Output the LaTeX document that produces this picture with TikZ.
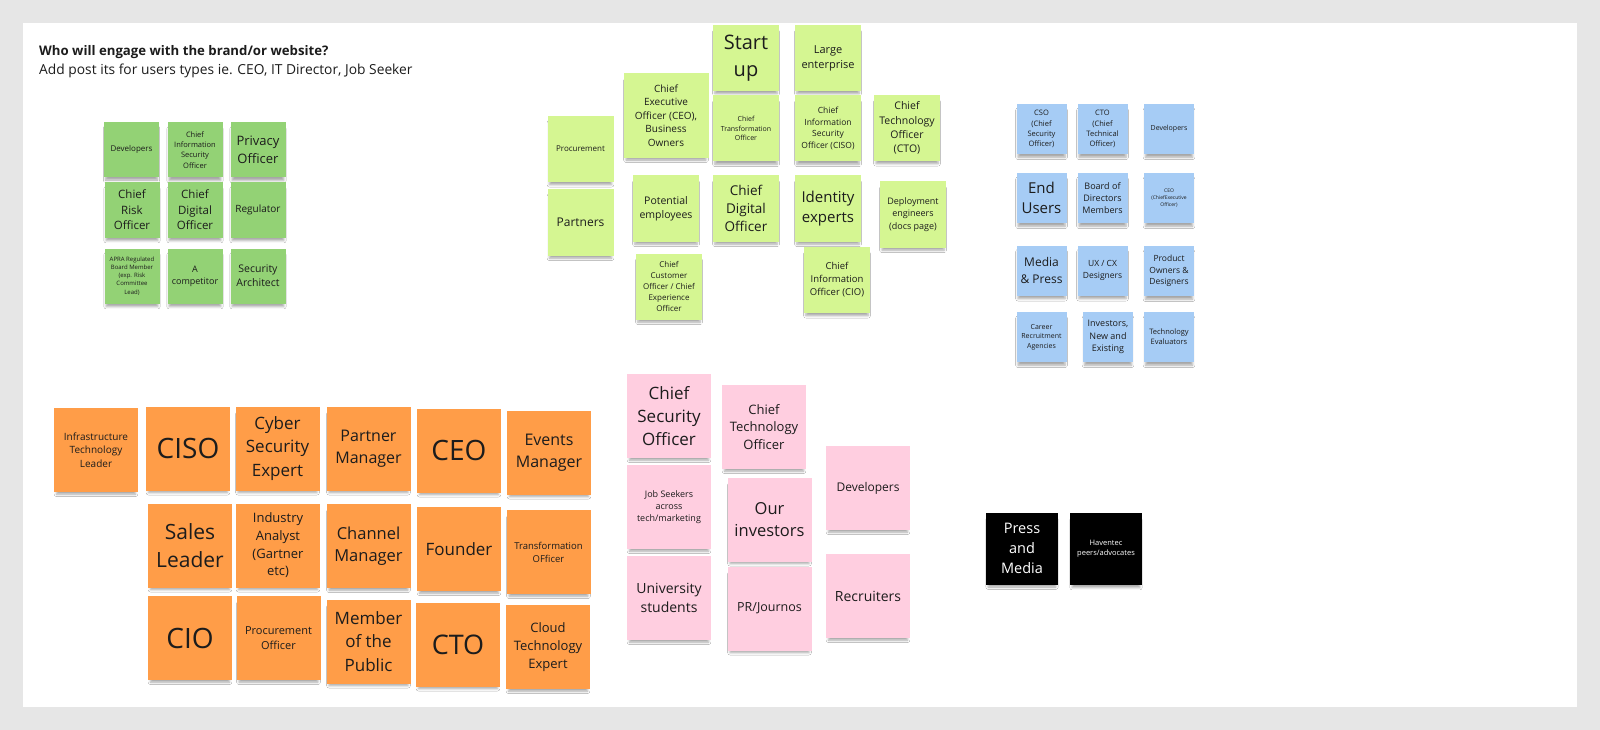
\documentclass[tikz,border=0pt]{standalone}
\usepackage{fontspec}
\setmainfont{Open Sans}
\usepackage{tikz}
\usetikzlibrary{shadows.blur}

\definecolor{canvas}{HTML}{E6E6E6}
\definecolor{ink}{HTML}{1C1C1C}
\definecolor{stgreen}{HTML}{93D275}
\definecolor{stlime}{HTML}{D5F692}
\definecolor{stblue}{HTML}{A6CCF5}
\definecolor{storange}{HTML}{FF9D48}
\definecolor{stpink}{HTML}{FFCEE0}

\newcommand{\fs}[1]{\fontsize{#1}{\fpeval{1.36*#1}}\selectfont}

\begin{document}
\begin{tikzpicture}[x=1pt, y=-1pt,
    sticky/.style={rectangle, inner sep=1pt, align=center, text=ink,
      blur shadow={shadow xshift=0pt, shadow yshift=-5pt, shadow scale=0.94,
        shadow blur radius=2.5pt, shadow opacity=35}},
    gnote/.style={sticky, fill=stgreen, minimum size=55pt},
    lnote/.style={sticky, fill=stlime, minimum size=66pt},
    bnote/.style={sticky, fill=stblue, minimum size=50pt},
    onote/.style={sticky, fill=storange, minimum size=84pt},
    pnote/.style={sticky, fill=stpink, minimum size=84pt},
    knote/.style={sticky, fill=black, text=white, minimum size=72pt},
    head/.style={anchor=base west, inner sep=0pt, text=ink}]
  \useasboundingbox (0,0) rectangle (1600,730);
  \fill[canvas] (0,0) rectangle (1600,730);
  \fill[white] (23,23) rectangle (1577,707);

  % header
  \node[head, font=\bfseries\fs{13.2}] (title) at (39,56) {Who will engage with the brand/or website?};
  \node[head, font=\fs{13.8}] (sub) at (39,75) {Add post its for users types ie. CEO, IT Director, Job Seeker};

  % green group
  \node[gnote, font=\fs{8}]    (gdev)  at (131.5,149.5) {Developers};
  \node[gnote, font=\fs{7.5}]  (gciso) at (195,150) {Chief\\Information\\Security\\Officer};
  \node[gnote, font=\fs{13}]   (gpriv) at (258,150) {Privacy\\Officer};
  \node[gnote, font=\fs{11.5}] (grisk) at (132,210) {Chief\\Risk\\Officer};
  \node[gnote, font=\fs{11.5}] (gcdo)  at (195,210) {Chief\\Digital\\Officer};
  \node[gnote, font=\fs{10}]   (greg)  at (258,210) {Regulator};
  \node[gnote, font=\fs{6}]    (gapra) at (132,276) {APRA Regulated\\Board Member\\(exp. Risk\\Committee\\Lead)};
  \node[gnote, font=\fs{9}]    (gcomp) at (195,276) {A\\competitor};
  \node[gnote, font=\fs{10.5}] (garch) at (258,276) {Security\\Architect};

  % lime group
  \node[lnote, font=\fs{20}]  (lstart) at (746,58) {Start\\up};
  \node[lnote, font=\fs{11}]  (llarge) at (828,58) {Large\\enterprise};
  \node[lnote, minimum size=85pt, font=\fs{10}] (lceo) at (666,115.5) {Chief\\Executive\\Officer (CEO),\\Business\\Owners};
  \node[lnote, font=\fs{7}]   (ltrans) at (746,128.5) {Chief\\Transformation\\Officer};
  \node[lnote, font=\fs{8.5}] (lciso)  at (828,128.5) {Chief\\Information\\Security\\Officer (CISO)};
  \node[lnote, font=\fs{10.5}] (lcto)  at (907,128) {Chief\\Technology\\Officer\\(CTO)};
  \node[lnote, font=\fs{8}]   (lproc)  at (580.5,149) {Procurement};
  \node[lnote, font=\fs{12}]  (lpart)  at (580.5,222.5) {Partners};
  \node[lnote, font=\fs{10.5}] (lemp)  at (666,208.5) {Potential\\employees};
  \node[lnote, font=\fs{13.5}] (lcdo)  at (746,208.5) {Chief\\Digital\\Officer};
  \node[lnote, font=\fs{15}]  (lident) at (828,208.5) {Identity\\experts};
  \node[lnote, font=\fs{9}]   (ldeploy) at (913,214.5) {Deployment\\engineers\\(docs page)};
  \node[lnote, font=\fs{8}]   (lcust)  at (669,286.5) {Chief\\Customer\\Officer / Chief\\Experience\\Officer};
  \node[lnote, font=\fs{9.5}] (lcio)   at (837,280) {Chief\\Information\\Officer (CIO)};

  % blue group
  \node[bnote, font=\fs{7.5}] (bcso)   at (1041.5,129) {CSO\\(Chief\\Security\\Officer)};
  \node[bnote, font=\fs{7.5}] (bcto)   at (1102.5,129) {CTO\\(Chief\\Technical\\Officer)};
  \node[bnote, font=\fs{7}]   (bdev)   at (1169,129) {Developers};
  \node[bnote, font=\fs{15}]  (bend)   at (1041.5,198) {End\\Users};
  \node[bnote, font=\fs{9}]   (bboard) at (1102.5,198) {Board of\\Directors\\Members};
  \node[bnote, font=\fs{5}]   (bceo)   at (1169,198) {CEO\\(ChiefExecutive\\Officer)};
  \node[bnote, font=\fs{12}]  (bmedia) at (1041.5,270.5) {Media\\\& Press};
  \node[bnote, font=\fs{8.5}] (bux)    at (1102.5,270.5) {UX / CX\\Designers};
  \node[bnote, font=\fs{8.5}] (bprod)  at (1169,271) {Product\\Owners \&\\Designers};
  \node[bnote, font=\fs{7}]   (bcareer) at (1041.5,337) {Career\\Recruitment\\Agencies};
  \node[bnote, font=\fs{9}]   (binv)   at (1108,337) {Investors,\\New and\\Existing};
  \node[bnote, font=\fs{7.5}] (beval)  at (1169,337) {Technology\\Evaluators};

  % orange group
  \node[onote, font=\fs{10}]   (oinfra)  at (96,450) {Infrastructure\\Technology\\Leader};
  \node[onote, font=\fs{28}]   (ociso)   at (188,448.5) {CISO};
  \node[onote, font=\fs{17}]   (ocyber)  at (277.5,448.5) {Cyber\\Security\\Expert};
  \node[onote, font=\fs{16}]   (opart)   at (368.5,448.5) {Partner\\Manager};
  \node[onote, font=\fs{28}]   (oceo)    at (459,450.5) {CEO};
  \node[onote, font=\fs{16}]   (oevent)  at (549,452.5) {Events\\Manager};
  \node[onote, font=\fs{21}]   (osales)  at (190,545.5) {Sales\\Leader};
  \node[onote, font=\fs{13}]   (oanal)   at (278,545.5) {Industry\\Analyst\\(Gartner\\etc)};
  \node[onote, font=\fs{16.5}] (ochan)   at (368.5,546) {Channel\\Manager};
  \node[onote, font=\fs{17}]   (ofound)  at (459,549) {Founder};
  \node[onote, font=\fs{9.5}]  (otrans)  at (548.5,552) {Transformation\\OFficer};
  \node[onote, font=\fs{28}]   (ocio)    at (190,638) {CIO};
  \node[onote, font=\fs{11}]   (oproc)   at (278.5,638) {Procurement\\Officer};
  \node[onote, font=\fs{17}]   (opublic) at (368.5,641.5) {Member\\of the\\Public};
  \node[onote, font=\fs{27}]   (octo)    at (458,644.5) {CTO};
  \node[onote, font=\fs{13}]   (ocloud)  at (548,647) {Cloud\\Technology\\Expert};

  % pink group
  \node[pnote, font=\fs{17}]   (pcso)  at (669,416) {Chief\\Security\\Officer};
  \node[pnote, font=\fs{13}]   (pcto)  at (764,427) {Chief\\Technology\\Officer};
  \node[pnote, font=\fs{12}]   (pdev)  at (868,488) {Developers};
  \node[pnote, font=\fs{9}]    (pjob)  at (669,507) {Job Seekers\\across\\tech/marketing};
  \node[pnote, font=\fs{16.5}] (pinv)  at (769.5,519.5) {Our\\investors};
  \node[pnote, font=\fs{14}]   (puni)  at (669,598) {University\\students};
  \node[pnote, font=\fs{12.5}] (ppr)   at (769.5,608.5) {PR/Journos};
  \node[pnote, font=\fs{14}]   (prec)  at (868,596) {Recruiters};

  % black group
  \node[knote, font=\fs{14.5}] (kpress) at (1022,548.5) {Press\\and\\Media};
  \node[knote, font=\fs{7.5}]  (kpeers) at (1106,549) {Haventec\\peers/advocates};
\end{tikzpicture}
\end{document}
